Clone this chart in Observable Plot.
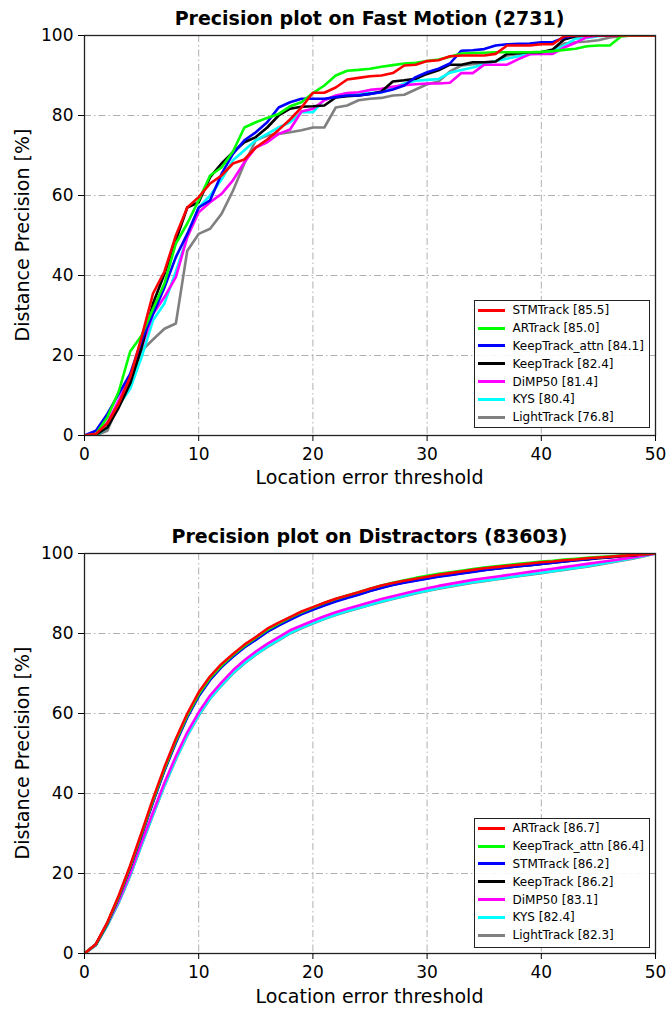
<!DOCTYPE html>
<html><head><meta charset="utf-8">
<script src="https://cdn.jsdelivr.net/npm/d3@7"></script>
<script src="https://cdn.jsdelivr.net/npm/@observablehq/plot@0.6"></script>
<style>
body{margin:0;background:#fff;font-family:"DejaVu Sans",sans-serif;color:#000;}
#wrap{position:relative;width:670px;height:1009px;overflow:hidden;}
.panel{position:absolute;left:0;width:670px;}
.title{position:absolute;left:84px;width:571px;text-align:center;font-weight:bold;font-size:19px;line-height:22px;white-space:nowrap;}
.xlabel{position:absolute;left:84px;width:571px;text-align:center;font-size:19px;line-height:22px;white-space:nowrap;}
.ylabel{position:absolute;font-size:19px;line-height:22px;white-space:nowrap;transform:translate(-50%,-50%) rotate(-90deg);}
.legend{position:absolute;left:474px;width:176px;border:1.5px solid #222;background:rgba(255,255,255,0.9);font-size:12px;box-sizing:border-box;padding-top:0.5px;}
.row{display:flex;align-items:center;height:17.8px;white-space:nowrap;}
.sw{width:27px;height:3px;margin-left:2.5px;margin-right:8px;}
</style>
</head><body>
<div id="wrap"></div>
<script>
// ---------- data ----------
const thresholds = d3.range(0, 51);
const xTicks = [0, 10, 20, 30, 40, 50];
const yTicks = [0, 20, 40, 60, 80, 100];
const colors = ["#ff0000", "#00ff00", "#0000ff", "#000000", "#ff00ff", "#00ffff", "#808080"];

// Fast Motion (2731)
const fmTitle = "Precision plot on Fast Motion (2731)";
const fmNames = ["STMTrack [85.5]", "ARTrack [85.0]", "KeepTrack_attn [84.1]", "KeepTrack [82.4]", "DiMP50 [81.4]", "KYS [80.4]", "LightTrack [76.8]"];
const fmSTMTrack = [0,0.4,3,8,14.6,24.6,35.5,41,50,57,59.6,63,65,68,69,72,74,76.4,79,82,85.7,85.7,87,89,89.4,89.8,90,90.6,92.5,92.7,93.6,93.8,94.8,95,95,95,95.4,97.5,97.5,97.5,97.8,97.8,99.8,100,100,100,100,100,100,100,100];
const fmARTrack = [0,0.3,4.6,11,21,25,31.7,38,48,53,58.8,65,67,71,77,78.3,79.4,80.4,82.3,83.3,85.6,87.5,90,91.2,91.4,91.7,92.2,92.6,93,93.2,93.6,94,94.7,95.5,95.6,95.7,95.8,95.8,95.8,95.8,95.9,96.1,96.4,96.7,97.3,97.5,97.5,99.8,100,100,100];
const fmKeepTrackAttn = [0,1.2,5.4,10.4,15.4,23.8,30.4,37,44.6,50.4,57,58.8,65.4,70.4,73.8,75.8,78.3,82,83.3,84.2,84.2,84.2,84.6,85,85,85.4,85.8,86.5,87.5,89.6,90.8,91.7,93,96.2,96.3,96.6,97.5,97.8,97.9,98,98.3,98.3,99.5,100,100,100,100,100,100,100,100];
const fmKeepTrack = [0,0.2,2,7,13,22,33,40.4,48.8,57,58.3,64.6,68,70.8,73.3,74.6,77,80,81.7,82.2,82.3,82.5,84.5,84.8,85,85.4,86,88.5,88.8,89.2,90.4,91.3,92.7,92.7,93.3,93.3,93.5,95.4,95.6,95.8,95.8,96.5,99,99.8,100,100,100,100,100,100,100];
const fmDiMP50 = [0,0.3,3.3,8.8,14.6,22,30.4,34.6,39.6,49.6,55.8,58.3,60.4,63.8,68.3,72,73.3,75.4,76.5,81,81.7,83.8,85,85.6,85.8,86.4,86.7,87.2,87.6,87.8,88,88,88.2,90.6,90.6,92.7,92.7,92.7,94.1,95.3,95.4,95.4,97,98.2,99.6,100,100,100,100,100,100];
const fmKYS = [0,0,2,7.5,11.7,19.6,28.8,33,41,49.6,57,60,64,68.8,71.3,73.8,75.4,77,78.3,80.8,80.8,84,84.6,85,85.4,85.6,85.8,86.8,88,88.7,88.9,89.1,90.7,91.4,92,92.8,93.6,94.2,94.8,95.4,95.6,96,97.5,99.2,99.4,99.8,100,100,100,100,100];
const fmLightTrack = [0,0,1.2,8,14,21.2,24,26.7,28,46.2,50.4,51.7,55.4,61.2,68,73.8,75,75.4,75.8,76.3,77,77,82,82.5,83.8,84.2,84.4,85,85.2,86.5,87.8,88.5,91,92.5,92.8,93.2,93.5,95,95.4,95.6,95.8,96,98,98.3,98.5,98.8,99.5,99.8,100,100,100];

// Distractors (83603)
const dsTitle = "Precision plot on Distractors (83603)";
const dsNames = ["ARTrack [86.7]", "KeepTrack_attn [86.4]", "STMTrack [86.2]", "KeepTrack [86.2]", "DiMP50 [83.1]", "KYS [82.4]", "LightTrack [82.3]"];
const dsARTrack = [0,2.4,7.8,14.5,22,30.3,38.7,46.6,53.7,60,65.3,69.3,72.4,74.9,77.2,79.1,81.2,82.7,84.1,85.5,86.6,87.7,88.7,89.5,90.3,91.2,92,92.6,93.2,93.7,94.2,94.7,95.1,95.5,95.9,96.3,96.6,96.9,97.2,97.5,97.8,98.0,98.3,98.5,98.8,99.0,99.2,99.4,99.6,99.8,100];
const dsKeepTrackAttn = [0,2.3,7.6,14.2,21.7,29.9,38.2,46.1,53.2,59.5,64.8,68.9,72.0,74.6,76.9,78.9,80.9,82.5,84.0,85.3,86.5,87.6,88.6,89.5,90.3,91.2,92.0,92.7,93.3,93.9,94.4,94.9,95.3,95.7,96.1,96.5,96.8,97.1,97.4,97.7,98.0,98.2,98.5,98.7,98.9,99.1,99.3,99.5,99.7,99.85,100];
const dsSTMTrack = [0,2.3,7.5,14.0,21.4,29.6,37.8,45.7,52.7,59.0,64.3,68.4,71.6,74.2,76.5,78.4,80.4,82.0,83.4,84.8,85.9,87.0,88.0,88.9,89.7,90.6,91.4,92.1,92.7,93.2,93.7,94.2,94.6,95.0,95.4,95.8,96.2,96.5,96.8,97.1,97.4,97.7,98.0,98.3,98.6,98.9,99.1,99.4,99.6,99.8,100];
const dsKeepTrack = [0,2.3,7.5,14.1,21.5,29.7,38.0,45.9,52.9,59.2,64.5,68.6,71.8,74.4,76.7,78.6,80.6,82.2,83.6,85.0,86.1,87.2,88.2,89.0,89.8,90.7,91.5,92.2,92.8,93.3,93.8,94.3,94.7,95.1,95.5,95.9,96.2,96.5,96.8,97.1,97.4,97.7,98.0,98.3,98.5,98.8,99.0,99.3,99.5,99.8,100];
const dsDiMP50 = [0,2.2,7.4,13.2,20.0,27.8,35.3,42.7,49.3,55.3,60.3,64.5,67.8,70.8,73.3,75.5,77.4,79.1,80.8,82.0,83.2,84.3,85.3,86.2,87.0,87.8,88.6,89.3,90.0,90.7,91.3,91.9,92.4,92.9,93.4,93.8,94.2,94.6,95.0,95.4,95.8,96.2,96.6,97.0,97.4,97.8,98.2,98.6,99.0,99.5,100];
const dsKYS = [0,2.1,7.1,12.8,19.5,27.2,34.7,42.0,48.6,54.6,59.6,63.8,67.1,70.1,72.6,74.8,76.7,78.4,80.1,81.4,82.6,83.7,84.7,85.6,86.4,87.2,88.0,88.7,89.4,90.1,90.7,91.3,91.8,92.3,92.8,93.2,93.6,94.0,94.4,94.8,95.2,95.6,96.0,96.4,96.8,97.3,97.8,98.3,98.8,99.4,100];
const dsLightTrack = [0,2.1,7.0,12.7,19.4,27.1,34.6,41.9,48.5,54.5,59.5,63.7,67.0,70.0,72.5,74.7,76.6,78.3,80.0,81.3,82.5,83.6,84.6,85.5,86.3,87.1,87.9,88.6,89.3,90.0,90.6,91.2,91.7,92.2,92.7,93.1,93.5,93.9,94.3,94.7,95.1,95.5,95.9,96.3,96.7,97.2,97.7,98.2,98.7,99.3,100];

const fmSeries = [fmSTMTrack, fmARTrack, fmKeepTrackAttn, fmKeepTrack, fmDiMP50, fmKYS, fmLightTrack];
const dsSeries = [dsARTrack, dsKeepTrackAttn, dsSTMTrack, dsKeepTrack, dsDiMP50, dsKYS, dsLightTrack];

// ---------- drawing ----------
const gridStyle = {stroke: "#b0b0b0", strokeOpacity: 1, strokeWidth: 1, strokeDasharray: "7,3,1.5,3"};

function chart(series, height, mTop, mBottom) {
  const marks = [
    Plot.gridX({ticks: [10, 20, 30, 40], ...gridStyle}),
    Plot.gridY({ticks: [20, 40, 60, 80], ...gridStyle})
  ];
  for (let i = series.length - 1; i >= 0; i--) {
    const vals = series[i];
    marks.push(Plot.line(thresholds, {x: d => d, y: (d, j) => vals[j], stroke: colors[i], strokeWidth: 2.6, clip: true}));
  }
  marks.push(Plot.frame({stroke: "#222", strokeWidth: 1.3}));
  marks.push(Plot.axisX({ticks: xTicks, tickSize: 6, tickPadding: 6, fontSize: 17, label: null}));
  marks.push(Plot.axisY({ticks: yTicks, tickSize: 6, tickPadding: 5, fontSize: 17, label: null}));
  return Plot.plot({
    width: 670, height,
    marginLeft: 84, marginRight: 15, marginTop: mTop, marginBottom: mBottom,
    x: {domain: [0, 50]}, y: {domain: [0, 100]},
    style: {fontFamily: "DejaVu Sans", color: "#000", background: "transparent", overflow: "visible"},
    marks
  });
}

function legend(names, top, height) {
  const lg = document.createElement("div");
  lg.className = "legend";
  lg.style.top = top + "px";
  lg.style.height = height + "px";
  names.forEach((n, i) => {
    const r = document.createElement("div");
    r.className = "row";
    const s = document.createElement("div");
    s.className = "sw";
    s.style.background = colors[i];
    const t = document.createElement("span");
    t.textContent = n;
    r.appendChild(s); r.appendChild(t);
    lg.appendChild(r);
  });
  return lg;
}

function addText(cls, text, styles) {
  const d = document.createElement("div");
  d.className = cls;
  d.textContent = text;
  Object.assign(d.style, styles);
  wrap.appendChild(d);
}

const wrap = document.getElementById("wrap");

const p1 = document.createElement("div");
p1.className = "panel"; p1.style.top = "0px";
p1.appendChild(chart(fmSeries, 518, 35, 83));
wrap.appendChild(p1);

const p2 = document.createElement("div");
p2.className = "panel"; p2.style.top = "518px";
p2.appendChild(chart(dsSeries, 491, 35, 56));
wrap.appendChild(p2);

addText("title", fmTitle, {top: "7px"});
addText("title", dsTitle, {top: "525px"});
addText("xlabel", "Location error threshold", {top: "466px"});
addText("xlabel", "Location error threshold", {top: "985px"});
addText("ylabel", "Distance Precision [%]", {left: "22px", top: "235px"});
addText("ylabel", "Distance Precision [%]", {left: "22px", top: "753px"});

wrap.appendChild(legend(fmNames, 300, 128));
wrap.appendChild(legend(dsNames, 818, 130));
</script>
</body></html>
